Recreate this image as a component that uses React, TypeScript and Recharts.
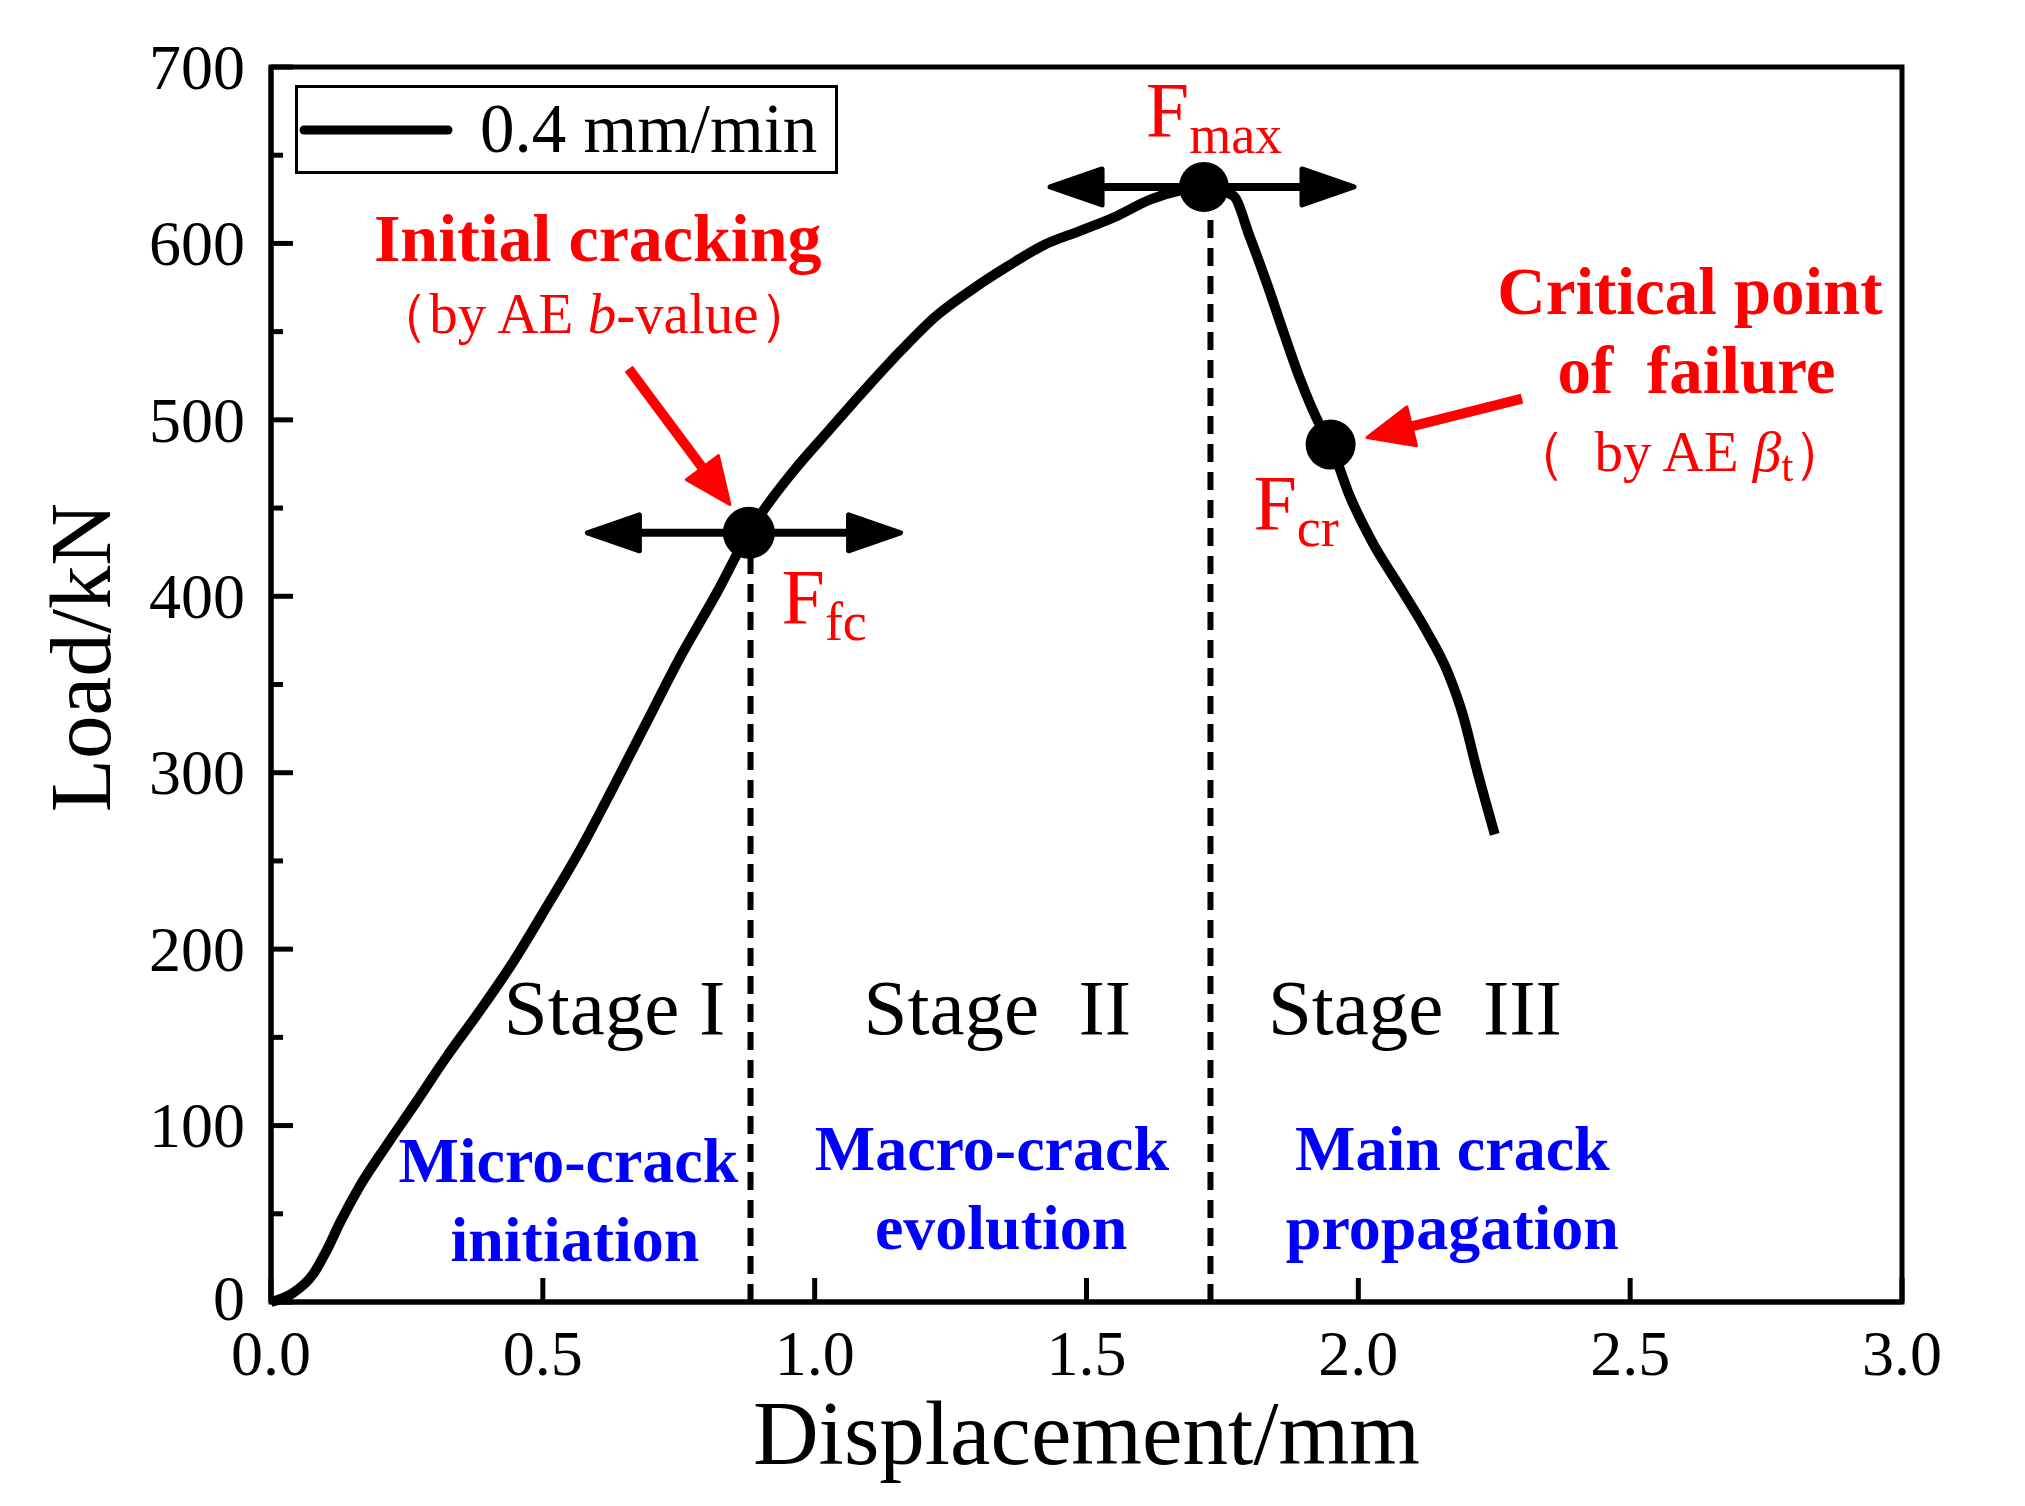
import React from "react";
import { LineChart, Line, XAxis, YAxis, ReferenceLine, ReferenceDot, ReferenceArea, Legend } from "recharts";

// load-displacement curve
const displacement = [
  0, 0.04, 0.078, 0.102, 0.127, 0.164, 0.213, 0.262, 0.323, 0.384, 0.446, 0.507, 0.57, 0.63, 0.69, 0.75,
  0.82, 0.879, 0.902, 0.961, 1.026, 1.092, 1.158, 1.224, 1.29, 1.355, 1.421, 1.487, 1.552, 1.618, 1.671,
  1.716, 1.77, 1.8, 1.831, 1.862, 1.893, 1.923, 1.949, 1.984, 2.027, 2.077, 2.126, 2.163, 2.193, 2.217, 2.251,
];
const load = [
  0, 5, 16, 29, 45, 66, 89, 111, 139, 165, 193, 224, 257, 292, 328, 364,
  402, 436, 447, 471, 494, 517, 539, 559, 574, 587, 599, 607, 615, 625, 630,
  632, 627, 604, 578, 550, 523, 501, 486, 457, 430, 405, 380, 358, 332, 303, 265,
];

const xTicks = [0, 0.5, 1.0, 1.5, 2.0, 2.5, 3.0];
const yTicks = [0, 50, 100, 150, 200, 250, 300, 350, 400, 450, 500, 550, 600, 650, 700];

// characteristic points
const Ffc = { x: 0.879, y: 436 };
const Fmax = { x: 1.716, y: 632 };
const Fcr = { x: 1.949, y: 486 };

const data = displacement.map((x, i) => ({ x, load: load[i] }));

const SERIF = "'Liberation Serif', 'Times New Roman', serif";
const RED = "#ff0000";
const BLUE = "#0000ff";
const X_MARGIN = 29;
const Y_MARGIN = 26;

const XTick = (p: any) => {
  const axisY = p.y - X_MARGIN;
  return (
    <g>
      <line x1={p.x} y1={axisY} x2={p.x} y2={axisY - 24} stroke="#000" strokeWidth={5} />
      <text x={p.x} y={p.y} dy="0.68em" textAnchor="middle" fontSize={64} fontFamily={SERIF} fill="#000">
        {Number(p.payload.value).toFixed(1)}
      </text>
    </g>
  );
};

const YTick = (p: any) => {
  const axisX = p.x + Y_MARGIN;
  const v = Number(p.payload.value);
  const major = v % 100 === 0;
  return (
    <g>
      <line x1={axisX} y1={p.y} x2={axisX + (major ? 22 : 12)} y2={p.y} stroke="#000" strokeWidth={5} />
      {major && (
        <text x={p.x} y={p.y} dy={v === 0 ? "0.28em" : "0.34em"} textAnchor="end" fontSize={64} fontFamily={SERIF} fill="#000">
          {v}
        </text>
      )}
    </g>
  );
};

function head(tx: number, ty: number, fx: number, fy: number, len: number, half: number) {
  const a = Math.atan2(ty - fy, tx - fx);
  const bx = tx - len * Math.cos(a);
  const by = ty - len * Math.sin(a);
  const nx = -Math.sin(a) * half;
  const ny = Math.cos(a) * half;
  return { pts: `${tx},${ty} ${bx + nx},${by + ny} ${bx - nx},${by - ny}`, bx, by };
}

const DoubleArrow = (p: any) => {
  const { x1, y1, x2, y2 } = p;
  const a = head(x1, y1, x2, y2, 52, 18);
  const b = head(x2, y2, x1, y1, 52, 18);
  return (
    <g>
      <line x1={a.bx} y1={a.by} x2={b.bx} y2={b.by} stroke="#000" strokeWidth={8} />
      <polygon points={a.pts} fill="#000" stroke="#000" strokeWidth={5} strokeLinejoin="round" />
      <polygon points={b.pts} fill="#000" stroke="#000" strokeWidth={5} strokeLinejoin="round" />
    </g>
  );
};

const RedArrow = (p: any) => {
  const { x1, y1, x2, y2 } = p;
  const h = head(x2, y2, x1, y1, 46, 20);
  return (
    <g>
      <line x1={x1} y1={y1} x2={h.bx} y2={h.by} stroke={RED} strokeWidth={10} />
      <polygon points={h.pts} fill={RED} stroke={RED} strokeWidth={3} strokeLinejoin="round" />
    </g>
  );
};

const label = (content: React.ReactNode, opts: { size: number; color: string; bold?: boolean; anchor?: string }) =>
  (p: any) => (
    <text
      x={p.cx}
      y={p.cy}
      textAnchor={opts.anchor || "middle"}
      fontSize={opts.size}
      fontWeight={opts.bold ? "bold" : "normal"}
      fontFamily={SERIF}
      fill={opts.color}
      style={{ whiteSpace: "pre" }}
    >
      {content}
    </text>
  );

const fLabel = (sub: string) => (
  <>
    <tspan>F</tspan>
    <tspan fontSize={54} dy={17}>{sub}</tspan>
  </>
);

const LegendBox = () => (
  <div
    style={{
      width: 543,
      height: 89,
      border: "3px solid #000",
      boxSizing: "border-box",
      display: "flex",
      alignItems: "center",
      background: "#fff",
    }}
  >
    <svg width={176} height={40} style={{ marginLeft: 0 }}>
      <line x1={6} y1={20} x2={150} y2={20} stroke="#000" strokeWidth={9} strokeLinecap="round" />
    </svg>
    <span style={{ fontFamily: SERIF, fontSize: 69, lineHeight: 1, marginLeft: 6 }}>0.4 mm/min</span>
  </div>
);

export default function App() {
  return (
    <div style={{ position: "absolute", left: 0, top: 0, background: "#fff" }}>
      <LineChart width={2025} height={1506} data={data} margin={{ top: 67, right: 123, bottom: 0, left: 0 }}>
        <XAxis
          dataKey="x"
          type="number"
          domain={[0, 3]}
          ticks={xTicks}
          height={204}
          tickSize={0}
          tickMargin={X_MARGIN}
          tickLine={false}
          tick={<XTick />}
          axisLine={{ stroke: "#000", strokeWidth: 5 }}
          label={{
            content: (lp: any) => (
              <text
                x={lp.viewBox.x + lp.viewBox.width / 2}
                y={lp.viewBox.y + lp.viewBox.height - 42}
                textAnchor="middle"
                fontSize={91}
                fontFamily={SERIF}
                fill="#000"
              >
                Displacement/mm
              </text>
            ),
          }}
        />
        <YAxis
          type="number"
          domain={[0, 700]}
          ticks={yTicks}
          width={271}
          tickSize={0}
          tickMargin={Y_MARGIN}
          tickLine={false}
          tick={<YTick />}
          interval={0}
          axisLine={{ stroke: "#000", strokeWidth: 5 }}
          label={{
            content: (lp: any) => {
              const cx = 80;
              const cy = lp.viewBox.y + lp.viewBox.height / 2 - 27;
              return (
                <text
                  transform={`translate(${cx},${cy}) rotate(-90)`}
                  dy="0.35em"
                  textAnchor="middle"
                  fontSize={87}
                  fontFamily={SERIF}
                  fill="#000"
                >
                  Load/kN
                </text>
              );
            },
          }}
        />

        {/* plot frame */}
        <ReferenceArea x1={0} x2={3} y1={0} y2={700} fill="none" stroke="#000" strokeWidth={5} ifOverflow="visible" />

        <Legend
          layout="horizontal"
          verticalAlign="middle"
          align="center"
          wrapperStyle={{ left: 295, top: 85, width: 543, height: 89 }}
          content={() => <LegendBox />}
        />

        <Line dataKey="load" type="monotone" stroke="#000" strokeWidth={10} dot={false} isAnimationActive={false} />

        {/* stage boundaries */}
        <ReferenceLine segment={[{ x: 0.882, y: 0 }, { x: 0.882, y: Ffc.y }]} stroke="#000" strokeWidth={6} strokeDasharray="18 10" />
        <ReferenceLine segment={[{ x: 1.728, y: 0 }, { x: 1.728, y: Fmax.y }]} stroke="#000" strokeWidth={6} strokeDasharray="18 10" />

        {/* double arrows */}
        <ReferenceLine segment={[{ x: 0.582, y: Ffc.y }, { x: 1.158, y: Ffc.y }]} shape={DoubleArrow} />
        <ReferenceLine segment={[{ x: 1.433, y: Fmax.y }, { x: 1.992, y: Fmax.y }]} shape={DoubleArrow} />

        {/* red pointers */}
        <ReferenceLine segment={[{ x: 0.658, y: 529 }, { x: 0.844, y: 452 }]} shape={RedArrow} />
        <ReferenceLine segment={[{ x: 2.301, y: 512 }, { x: 2.016, y: 490 }]} shape={RedArrow} />

        {/* characteristic points */}
        <ReferenceDot x={Ffc.x} y={Ffc.y} r={26} fill="#000" stroke="none" />
        <ReferenceDot x={Fmax.x} y={Fmax.y} r={25} fill="#000" stroke="none" />
        <ReferenceDot x={Fcr.x} y={Fcr.y} r={25} fill="#000" stroke="none" />

        <ReferenceDot x={1.609} y={661} r={1} shape={label(fLabel("max"), { size: 78, color: RED, anchor: "start" })} />
        <ReferenceDot x={0.939} y={385} r={1} shape={label(fLabel("fc"), { size: 78, color: RED, anchor: "start" })} />
        <ReferenceDot x={1.807} y={438} r={1} shape={label(fLabel("cr"), { size: 78, color: RED, anchor: "start" })} />

        <ReferenceDot x={0.601} y={590} r={1} shape={label("Initial cracking", { size: 68, color: RED, bold: true })} />
        <ReferenceDot
          x={0.594}
          y={549}
          r={1}
          shape={label(
            <>
              （by AE <tspan fontStyle="italic">b</tspan>-value）
            </>,
            { size: 57, color: RED }
          )}
        />
        <ReferenceDot x={2.61} y={560} r={1} shape={label("Critical point", { size: 67, color: RED, bold: true })} />
        <ReferenceDot x={2.622} y={515} r={1} shape={label("of  failure", { size: 67, color: RED, bold: true })} />
        <ReferenceDot
          x={2.591}
          y={471}
          r={1}
          shape={label(
            <>
              {"（  by AE "}<tspan fontStyle="italic">β</tspan>
              <tspan fontSize={44} dy={10}>t</tspan>
              <tspan dy={-10}>）</tspan>
            </>,
            { size: 57, color: RED }
          )}
        />

        <ReferenceDot x={0.632} y={152} r={1} shape={label("Stage I", { size: 79, color: "#000" })} />
        <ReferenceDot x={1.336} y={152} r={1} shape={label("Stage  II", { size: 79, color: "#000" })} />
        <ReferenceDot x={2.104} y={152} r={1} shape={label("Stage  III", { size: 79, color: "#000" })} />

        <ReferenceDot x={0.547} y={68} r={1} shape={label("Micro-crack", { size: 64, color: BLUE, bold: true })} />
        <ReferenceDot x={0.559} y={23} r={1} shape={label("initiation", { size: 64, color: BLUE, bold: true })} />
        <ReferenceDot x={1.326} y={75} r={1} shape={label("Macro-crack", { size: 64, color: BLUE, bold: true })} />
        <ReferenceDot x={1.343} y={30} r={1} shape={label("evolution", { size: 64, color: BLUE, bold: true })} />
        <ReferenceDot x={2.173} y={75} r={1} shape={label("Main crack", { size: 64, color: BLUE, bold: true })} />
        <ReferenceDot x={2.173} y={30} r={1} shape={label("propagation", { size: 64, color: BLUE, bold: true })} />
      </LineChart>
    </div>
  );
}
